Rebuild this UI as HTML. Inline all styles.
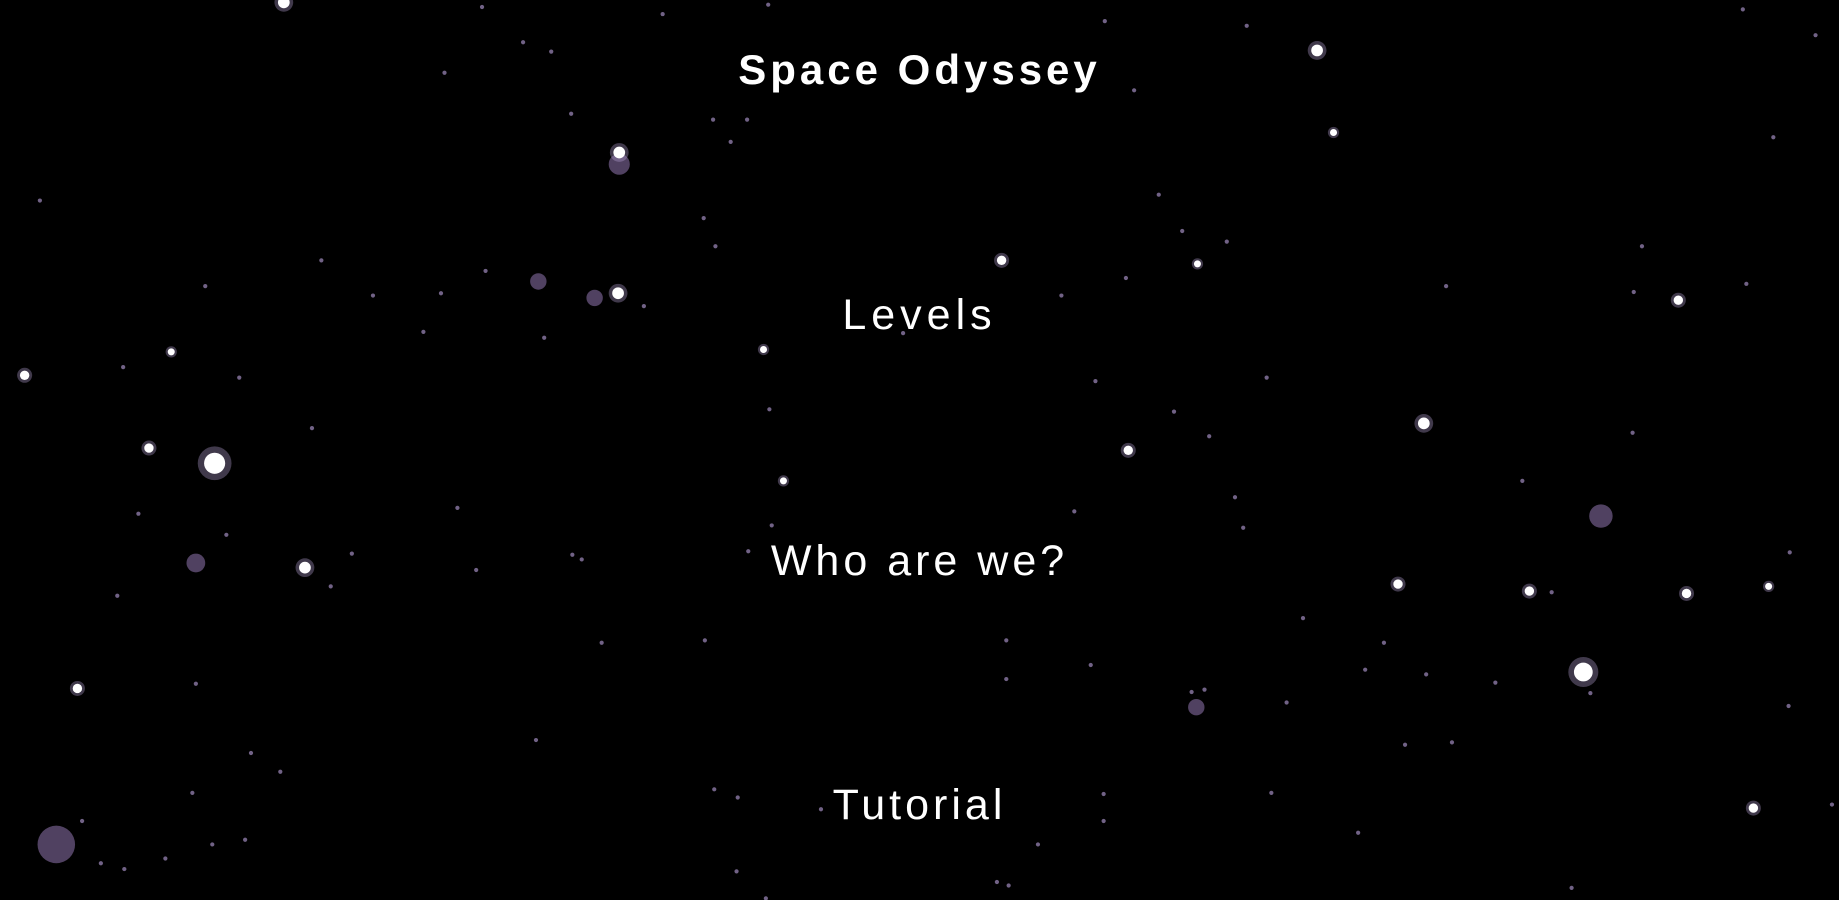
<!DOCTYPE html>
<html><head><meta charset="utf-8">
<style>
html,body{margin:0;padding:0;background:#000;width:1839px;height:900px;overflow:hidden}
#sky{position:absolute;left:0;top:0}
.t{position:absolute;left:0;width:1839px;text-align:center;color:#fff;font-family:"Liberation Sans",sans-serif;letter-spacing:4px}
#title{top:46px;font-size:42px;font-weight:bold}
.m{font-size:43px;cursor:pointer;letter-spacing:4px}
</style></head><body>
<svg id="sky" width="1839" height="900"></svg>
<div class="t" id="title">Space Odyssey</div>
<div class="t m" style="top:291px;letter-spacing:5px">Levels</div>
<div class="t m" style="top:537px">Who are we?</div>
<div class="t m" style="top:781px">Tutorial</div>
<script>
const S=1839/1568;
const bright=[[183,395,9],[1350,573,8],[1214,361,5],[1123,43,5],[527,250,5],[854,222,4],[260,484,5],[66,587,4],[1495,689,4],[1304,504,4],[1192,498,4],[1438,506,4],[21,320,4],[127,382,4],[1431,256,4],[1137,113,3],[962,384,4],[1021,225,3],[651,298,3],[668,410,3],[242,2,5],[528,130,5],[146,300,3],[1508,500,3]];
const blobs=[[48,720,16],[167,480,8],[1365,440,10],[528,140,9],[459,240,7],[507,254,7],[1020,603,7]];
const dim=[[34,171],[105,313],[118,438],[193,456],[100,508],[167,583],[214,642],[239,658],[164,676],[181,720],[209,716],[86,736],[106,741],[141,732],[274,222],[318,252],[266,365],[414,231],[379,62],[411,6],[446,36],[470,44],[487,97],[608,102],[637,102],[600,186],[565,12],[655,4],[549,261],[464,288],[390,433],[406,486],[496,477],[513,548],[601,546],[638,470],[656,349],[658,448],[457,631],[609,673],[629,680],[628,743],[653,766],[700,690],[770,284],[858,546],[858,579],[930,567],[941,677],[941,700],[885,720],[850,752],[860,755],[916,436],[934,325],[1001,351],[1031,372],[1053,424],[1060,450],[1080,322],[988,166],[1008,197],[1046,206],[942,18],[967,77],[1063,22],[1233,244],[1298,410],[1323,505],[1392,369],[1393,249],[1489,242],[1512,117],[1486,8],[1400,210],[1164,571],[1180,548],[1216,575],[1198,635],[1238,633],[1275,582],[1356,591],[1525,602],[1562,686],[1158,710],[1084,676],[1111,527],[1097,599],[1016,590],[1027,588],[1340,757],[905,252],[960,237],[1548,30],[1526,471],[376,250],[361,283],[300,472],[282,500],[70,700],[610,210],[623,121],[204,322],[175,244],[488,473]];
const svg=document.getElementById('sky');
function c(x,y,r,f,o){const e=document.createElementNS('http://www.w3.org/2000/svg','circle');
e.setAttribute('cx',x*S);e.setAttribute('cy',y*S);e.setAttribute('r',r*S);e.setAttribute('fill',f);e.setAttribute('opacity',o);


svg.appendChild(e);}
blobs.forEach(b=>c(b[0],b[1],b[2],'#5e4c72',0.85));
dim.forEach(d=>c(d[0],d[1],1.8,'#8d7aa8',0.8));
bright.forEach(b=>{c(b[0],b[1],b[2]*1.6,'#b7a3d6',0.35);c(b[0],b[1],b[2],'#fff',1);});
</script>
</body></html>
